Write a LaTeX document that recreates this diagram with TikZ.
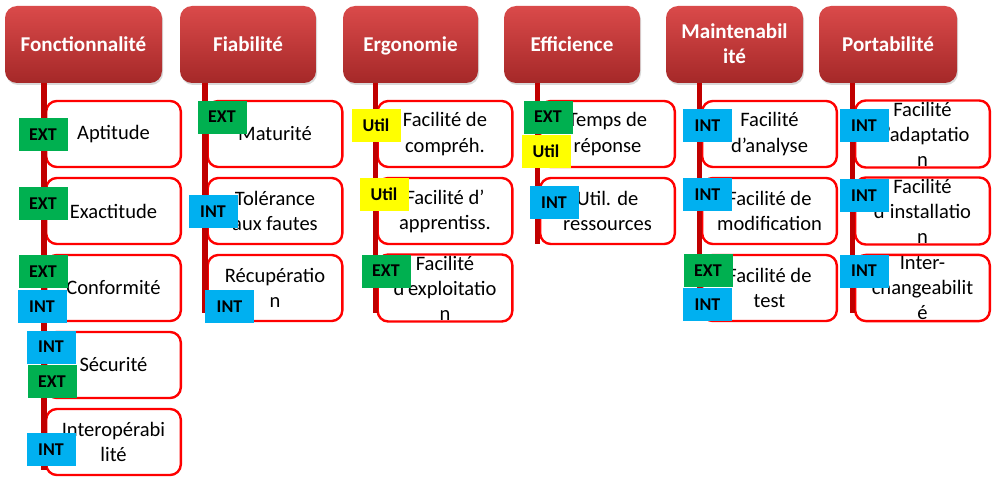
\documentclass[tikz,border=0pt]{standalone}
\usepackage{fontspec}
\setmainfont{Carlito}
\usepackage{tikz}
\usetikzlibrary{shadows}
\definecolor{barred}{RGB}{192,0,0}
\definecolor{boxred}{RGB}{255,0,0}
\definecolor{extgreen}{RGB}{0,176,80}
\definecolor{intblue}{RGB}{0,176,240}
\definecolor{utilyellow}{RGB}{255,255,0}
\definecolor{headtop}{RGB}{218,74,74}
\definecolor{headbot}{RGB}{165,40,40}

\begin{document}
\begin{tikzpicture}
			[x=0.75pt, y=-0.75pt,
			head/.style={rectangle, rounded corners=9pt, top color=headtop, bottom color=headbot, minimum height=57.75pt, text=white, align=center, text depth=0.1em, font=\fontsize{15.8}{18.8}\selectfont\bfseries, drop shadow={opacity=0.3, shadow xshift=0.8pt, shadow yshift=-1.5pt}},
			crit/.style={rectangle, rounded corners=8pt, draw=boxred, line width=1.8pt, fill=white, minimum width=101pt, minimum height=49.5pt, align=center, inner sep=1pt, font=\fontsize{15.4}{18.8}\selectfont},
			tag/.style={rectangle, minimum width=36.75pt, minimum height=24.75pt, inner sep=0pt, font=\fontsize{13.5}{14}\selectfont\bfseries},
			ext/.style={tag, fill=extgreen},
			int/.style={tag, fill=intblue},
			util/.style={tag, fill=utilyellow},
			bar/.style={barred, line width=4pt},]
			\useasboundingbox (0,0) rectangle (992,478);
			% characteristics
			\node[head, minimum width=117.75pt] (H1) at (83.5, 44.5) {Fonctionnalité};
			\node[head, minimum width=102pt] (H2) at (248, 44.5) {Fiabilité};
			\node[head, minimum width=101.25pt] (H3) at (410.5, 44.5) {Ergonomie};
			\node[head, minimum width=102pt] (H4) at (572, 44.5) {Efficience};
			\node[head, minimum width=102.75pt] (H5) at (734.5, 44.5) {Maintenabil\\ité};
			\node[head, minimum width=103.5pt] (H6) at (888, 44.5) {Portabilité};
			% sub-characteristics
			\node[crit] (C11) at (113.5, 134) {Aptitude};
			\node[crit] (C12) at (113.5, 211) {Exactitude};
			\node[crit] (C13) at (113.5, 288) {Conformité};
			\node[crit] (C14) at (113.5, 365) {Sécurité};
			\node[crit] (C15) at (113.5, 442) {Interopérabi\\lité};
			\node[crit] (C21) at (275, 134) {Maturité};
			\node[crit] (C22) at (275, 211) {Tolérance\\aux fautes};
			\node[crit] (C23) at (275, 288) {Récupératio\\n};
			\node[crit] (C31) at (445, 134) {Facilité de\\compréh.};
			\node[crit] (C32) at (445, 211) {Facilité d’\\apprentiss.};
			\node[crit] (C33) at (445, 288) {Facilité\\d’exploitatio\\n};
			\node[crit] (C41) at (607.5, 134) {Temps de\\réponse};
			\node[crit] (C42) at (607.5, 211) {Util. de\\ressources};
			\node[crit] (C51) at (769.5, 134) {Facilité\\d’analyse};
			\node[crit] (C52) at (769.5, 211) {Facilité de\\modification};
			\node[crit] (C53) at (769.5, 288) {Facilité de\\test};
			\node[crit] (C61) at (922.5, 134) {Facilité\\d’adaptatio\\n};
			\node[crit] (C62) at (922.5, 211) {Facilité\\d’installatio\\n};
			\node[crit] (C63) at (922.5, 288) {Inter-\\changeabilit\\é};
			% bars
			\draw[bar] ([xshift=-0.75pt]C11.west |- H1.south) -- ([xshift=-0.75pt, yshift=5pt]C15.south west);
			\draw[bar] ([xshift=-1pt]C21.west |- H2.south) -- ([xshift=-1pt, yshift=7pt]C23.south west);
			\draw[bar] ([xshift=-0.75pt]C31.west |- H3.south) -- ([xshift=-0.75pt, yshift=7pt]C33.south west);
			\draw[bar] ([xshift=-1pt]C41.west |- H4.south) -- ([xshift=-1pt, yshift=1pt]C42.south west);
			\draw[bar] ([xshift=-1pt]C51.west |- H5.south) -- ([xshift=-1pt, yshift=7pt]C53.south west);
			\draw[bar] ([xshift=-1pt]C61.west |- H6.south) -- ([xshift=-1pt, yshift=7pt]C63.south west);
			% tags
			\node[ext] (T11) at (43, 134.5) {EXT};
			\node[ext] (T12) at (43, 203.5) {EXT};
			\node[ext] (T13a) at (43, 271.5) {EXT};
			\node[int] (T13b) at (42, 306.5) {INT};
			\node[int] (T14a) at (51, 347) {INT};
			\node[ext] (T14b) at (52, 381.5) {EXT};
			\node[int] (T15) at (51, 449.5) {INT};
			\node[ext] (T21) at (222, 117) {EXT};
			\node[int] (T22) at (213, 211.5) {INT};
			\node[int] (T23) at (229.5, 306.5) {INT};
			\node[util] (T31) at (376, 125) {Util};
			\node[util] (T32) at (384, 194.5) {Util};
			\node[ext] (T33) at (386, 271) {EXT};
			\node[ext] (T41a) at (548, 117) {EXT};
			\node[util] (T41b) at (546, 151) {Util};
			\node[int] (T42) at (554, 202.5) {INT};
			\node[int] (T51) at (707.5, 125.5) {INT};
			\node[int] (T52) at (707.5, 194.5) {INT};
			\node[ext] (T53a) at (708, 270.5) {EXT};
			\node[int] (T53b) at (707.5, 304.5) {INT};
			\node[int] (T61) at (864, 125.5) {INT};
			\node[int] (T62) at (864, 195.5) {INT};
			\node[int] (T63) at (864, 271) {INT};
			\end{tikzpicture}
\end{document}
